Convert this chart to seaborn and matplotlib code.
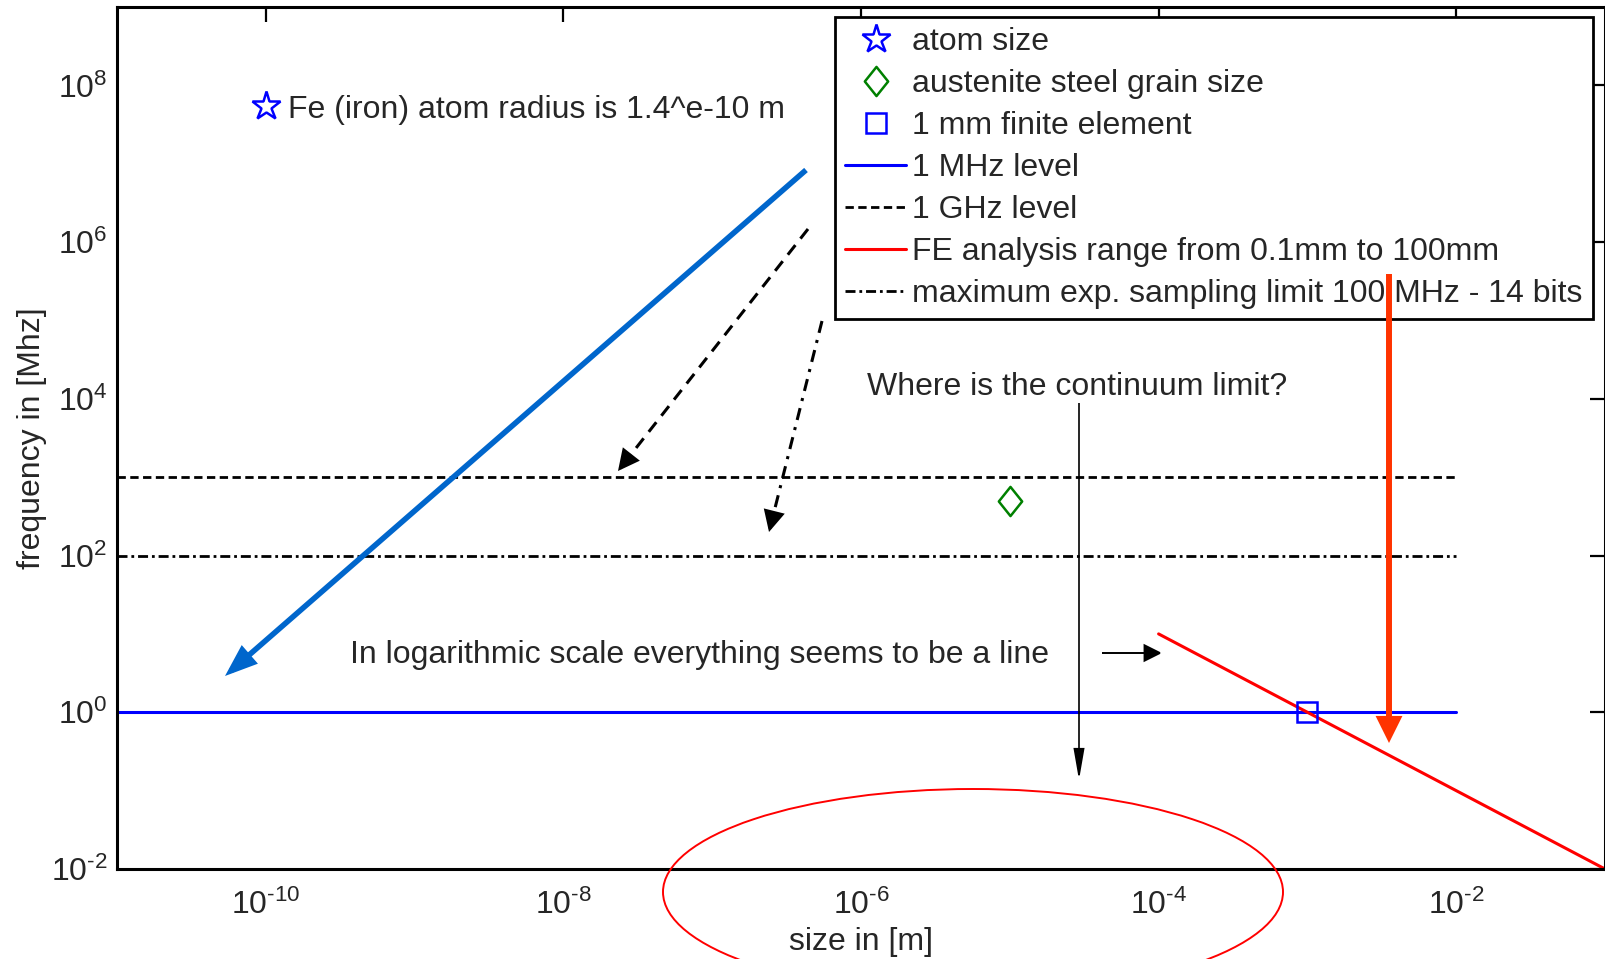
import math
import matplotlib
matplotlib.use("Agg")
import matplotlib.pyplot as plt
import seaborn as sns
from matplotlib.patches import Ellipse
from matplotlib.path import Path
from matplotlib.transforms import IdentityTransform

# --- data -------------------------------------------------------------
# horizontal frequency levels [MHz] across the size range [m]
level_size = [1e-11, 1e-2]
mhz_level = [1.0, 1.0]
ghz_level = [1e3, 1e3]
sampling_level = [1e2, 1e2]

# FE analysis range from 0.1 mm to 100 mm
fe_size = [1e-4, 1e-1]
fe_freq = [10.0, 0.01]

# single characteristic sizes
atom_size = [1e-10]
atom_freq = [5.4e7]
grain_size = [1e-5]
grain_freq = [500.0]
element_size = [1e-3]
element_freq = [1.0]

HY = "\u2010"  # short hyphen for the exponents
x_ticks = [1e-10, 1e-8, 1e-6, 1e-4, 1e-2]
x_tick_labels = [rf"$\mathregular{{10^{{{HY}10}}}}$", rf"$\mathregular{{10^{{{HY}8}}}}$",
                 rf"$\mathregular{{10^{{{HY}6}}}}$", rf"$\mathregular{{10^{{{HY}4}}}}$",
                 rf"$\mathregular{{10^{{{HY}2}}}}$"]
y_ticks = [1e-2, 1e0, 1e2, 1e4, 1e6, 1e8]
y_tick_labels = [rf"$\mathregular{{10^{{{HY}2}}}}$", r"$\mathregular{10^{0}}$",
                 r"$\mathregular{10^{2}}$", r"$\mathregular{10^{4}}$",
                 r"$\mathregular{10^{6}}$", r"$\mathregular{10^{8}}$"]

legend_order = ["atom size", "austenite steel grain size", "1 mm finite element",
                "1 MHz level", "1 GHz level",
                "FE analysis range from 0.1mm to 100mm",
                "maximum exp. sampling limit 100 MHz - 14 bits"]

# --- style ------------------------------------------------------------
sns.set_style("white")
plt.rcParams["font.family"] = ["Liberation Sans", "DejaVu Sans"]
plt.rcParams["mathtext.fontset"] = "custom"
plt.rcParams["mathtext.rm"] = "Liberation Sans"
plt.rcParams["mathtext.it"] = "Liberation Sans:italic"
plt.rcParams["mathtext.bf"] = "Liberation Sans:bold"

W, H = 1606, 959
FS = 23

fig = plt.figure(figsize=(W / 100, H / 100), dpi=100)
fig.patch.set_facecolor("white")
ax = fig.add_axes([117 / W, 1 - 869 / H, (1605 - 117) / W, (869 - 7) / H])
ax.set_xscale("log")
ax.set_yscale("log")

# levels
sns.lineplot(x=level_size, y=mhz_level, ax=ax, color="blue", lw=2.2,
             label="1 MHz level", estimator=None, sort=False)
sns.lineplot(x=level_size, y=ghz_level, ax=ax, color="black", lw=2.0,
             linestyle=(0, (3.0, 1.6)), label="1 GHz level",
             estimator=None, sort=False)
sns.lineplot(x=fe_size, y=fe_freq, ax=ax, color="red", lw=2.2,
             label="FE analysis range from 0.1mm to 100mm",
             estimator=None, sort=False)
sns.lineplot(x=level_size, y=sampling_level, ax=ax, color="black", lw=2.0,
             linestyle=(0, (3.6, 1.4, 1.0, 1.4)),
             label="maximum exp. sampling limit 100 MHz - 14 bits",
             estimator=None, sort=False)

# characteristic sizes
diamond = Path([(0, 1), (0.8, 0), (0, -1), (-0.8, 0), (0, 1)],
               [Path.MOVETO, Path.LINETO, Path.LINETO, Path.LINETO, Path.CLOSEPOLY])
sns.lineplot(x=atom_size, y=atom_freq, ax=ax, color="blue", linestyle="none",
             marker="*", markersize=21, markerfacecolor="none",
             mec="blue", mew=1.8, label="atom size", estimator=None)
sns.lineplot(x=grain_size, y=grain_freq, ax=ax, color="green", linestyle="none",
             marker=diamond, markersize=21, markerfacecolor="none",
             mec="#008000", mew=1.8, label="austenite steel grain size",
             estimator=None)
sns.lineplot(x=element_size, y=element_freq, ax=ax, color="blue",
             linestyle="none", marker="s", markersize=15,
             markerfacecolor="none", mec="blue", mew=1.8,
             label="1 mm finite element", estimator=None)

# axes
ax.set_xlim(1e-11, 1e-1)
ax.set_ylim(1e-2, 1e9)
ax.set_xticks(x_ticks)
ax.set_xticklabels(x_tick_labels)
ax.set_yticks(y_ticks)
ax.set_yticklabels(y_tick_labels)
ax.minorticks_off()
ax.tick_params(which="both", direction="in", top=True, right=True,
               length=11, width=1.6, labelsize=23, pad=7, color="black")
ax.tick_params(axis="x", pad=15)
for s in ax.spines.values():
    s.set_linewidth(2.2)
    s.set_color("black")
ax.set_xlabel("size in [m]", fontsize=FS, labelpad=4)
ax.set_ylabel("frequency in [Mhz]", fontsize=FS, labelpad=2.5)

# legend
h, l = ax.get_legend_handles_labels()
lut = dict(zip(l, h))
leg = ax.legend([lut[k] for k in legend_order], legend_order,
                loc="upper left", bbox_to_anchor=(835 / W, 1 - 17 / H),
                bbox_transform=fig.transFigure, fontsize=FS,
                frameon=True, fancybox=False, framealpha=1,
                edgecolor="black", borderpad=0.32, handlelength=1.9,
                handletextpad=0.2, labelspacing=0.375, borderaxespad=0)
leg.get_frame().set_linewidth(2.0)


# --- annotations (figure pixel positions, y measured from top) --------
def fpos(x, y):
    return (x, H - y)


def _annot(start, end, style, color, lw, ls, ms):
    ax.annotate("", xy=fpos(*end), xytext=fpos(*start),
                xycoords="figure pixels", textcoords="figure pixels",
                annotation_clip=False, zorder=8,
                arrowprops=dict(arrowstyle=style, color=color, lw=lw,
                                linestyle=ls, shrinkA=0, shrinkB=0,
                                mutation_scale=ms, joinstyle="miter",
                                capstyle="butt"))


def arrow(start, end, color, lw, hl, hw, ls="-", ms=10):
    head = f"-|>,head_length={hl},head_width={hw}"
    if ls == "-":
        _annot(start, end, head, color, lw, ls, ms)
        return
    # patterned shaft with a solid head
    head_px = hl * ms * fig.dpi / 72
    dx, dy = end[0] - start[0], end[1] - start[1]
    n = math.hypot(dx, dy)
    ux, uy = dx / n, dy / n
    base = (end[0] - ux * head_px, end[1] - uy * head_px)
    _annot(start, base, "-", color, lw, ls, ms)
    neck = (end[0] - ux * (head_px + 2), end[1] - uy * (head_px + 2))
    _annot(neck, end, head, color, lw, "-", ms)


arrow((806, 170), (225, 676), "#0066CC", 4.0, 1.6, 0.6)
arrow((808, 229), (618, 471), "black", 2.2, 1.2, 0.6, ls=(0, (4.0, 2.7)))
arrow((822, 321), (769, 532), "black", 2.2, 1.2, 0.6, ls=(0, (4.0, 2.4, 1.0, 2.4)))
arrow((1079, 403), (1079, 780), "black", 1.2, 1.9, 0.33)
arrow((1102, 653), (1162, 653), "black", 1.4, 1.1, 0.55)
arrow((1389, 274), (1389, 743), "#FF3300", 4.3, 1.25, 0.62)

fig.add_artist(Ellipse(fpos(973, 892), width=620, height=206, fill=False,
                       edgecolor="red", lw=1.4, transform=IdentityTransform(),
                       clip_on=False))

fig.text(288 / W, 1 - 110 / H, "Fe (iron) atom radius is 1.4^e-10 m",
         fontsize=FS, va="center", ha="left")
fig.text(1077 / W, 1 - 387 / H, "Where is the continuum limit?",
         fontsize=FS, va="center", ha="center")
fig.text(350 / W, 1 - 655 / H, "In logarithmic scale everything seems to be a line",
         fontsize=FS, va="center", ha="left")

fig.savefig("out.png", dpi=100, facecolor="white")
